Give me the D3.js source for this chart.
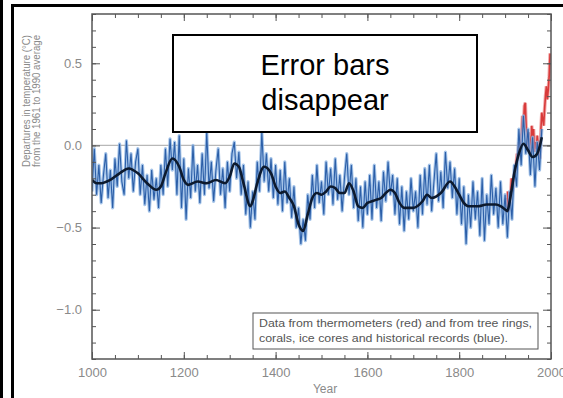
<!DOCTYPE html>
<html><head><meta charset="utf-8">
<script src="https://cdn.jsdelivr.net/npm/d3@7"></script>
<style>
html,body{margin:0;padding:0;background:#fff;}
svg{display:block;font-family:"Liberation Sans",Arial,sans-serif;}
</style></head>
<body>
<svg id="c" width="563" height="398"></svg>
<script>
// ---- data ----
const blueStart = 1000, blueStep = 5;
const blueTemps = [
 -0.28,-0.02,-0.30,-0.12,-0.35,-0.18,-0.05,-0.32,-0.15,-0.38,-0.08,-0.25,0.01,-0.22,-0.30,0.03,-0.20,-0.05,-0.28,-0.10,
 -0.02,-0.30,-0.12,-0.36,-0.18,-0.40,-0.15,-0.33,-0.20,-0.38,-0.12,-0.30,-0.02,-0.25,0.04,-0.15,0.02,-0.30,0.06,-0.38,
 -0.08,-0.45,-0.14,-0.32,0.00,-0.28,-0.12,-0.35,-0.05,-0.30,0.08,-0.26,-0.10,-0.34,-0.15,-0.02,-0.30,-0.14,-0.38,-0.10,
 -0.28,-0.05,0.02,-0.20,-0.04,-0.30,-0.12,-0.42,-0.22,-0.50,-0.28,-0.45,-0.10,-0.28,0.08,-0.22,-0.05,-0.28,-0.08,-0.32,
 -0.12,-0.36,-0.15,-0.40,-0.10,-0.35,-0.20,-0.44,-0.25,-0.50,-0.38,-0.60,-0.45,-0.58,-0.30,-0.45,-0.18,-0.38,-0.12,-0.35,
 -0.22,-0.42,-0.10,-0.30,-0.14,-0.36,-0.08,-0.33,-0.18,-0.40,-0.20,-0.05,-0.30,-0.12,-0.38,-0.20,-0.46,-0.25,-0.50,-0.22,
 -0.42,-0.18,-0.45,-0.12,-0.38,-0.22,-0.46,-0.16,-0.34,-0.10,-0.30,-0.18,-0.42,-0.20,-0.48,-0.25,-0.52,-0.28,-0.45,-0.20,
 -0.40,-0.28,-0.50,-0.18,-0.42,-0.14,-0.36,-0.12,-0.40,-0.22,-0.05,-0.34,-0.16,-0.38,-0.04,-0.26,-0.10,-0.32,-0.14,-0.42,
 -0.20,-0.48,-0.25,-0.60,-0.30,-0.50,-0.22,-0.45,-0.28,-0.55,-0.20,-0.58,-0.30,-0.48,-0.18,-0.42,-0.26,-0.50,-0.22,-0.48,
 -0.30,-0.56,-0.28,-0.45,-0.12,-0.25,0.10,-0.12,0.18,-0.05,0.10,-0.18,0.05,-0.25,0.02,-0.15,0.10
];
const redStart = 1902, redStep = 2;
const redTemps = [
 -0.32,-0.38,-0.28,-0.40,-0.36,-0.30,-0.20,-0.28,-0.22,-0.18,
 -0.15,-0.12,-0.05,-0.08,0.02,-0.02,0.05,0.08,0.18,0.12,
 0.24,0.26,0.10,0.06,-0.02,0.08,0.02,-0.06,0.12,0.05,
 0.10,-0.04,0.02,-0.02,0.06,0.00,-0.04,-0.08,0.10,0.20,
 0.16,0.12,0.22,0.30,0.36,0.28,0.34,0.42,0.56
];
const smoothYears = [1000,1010,1020,1040,1060,1080,1100,1120,1140,1150,1160,1175,1190,1200,1210,1230,1250,1270,1290,1300,1310,1320,1330,1345,1350,1360,1375,1390,1400,1410,1420,1430,1440,1450,1460,1470,1480,1490,1500,1510,1520,1530,1540,1550,1560,1570,1580,1590,1600,1610,1620,1630,1640,1650,1660,1670,1680,1700,1720,1730,1740,1760,1780,1790,1800,1810,1820,1840,1860,1880,1890,1900,1905,1910,1920,1930,1940,1950,1960,1970,1980];
const smoothTemps = [-0.21,-0.23,-0.23,-0.21,-0.17,-0.14,-0.17,-0.23,-0.27,-0.25,-0.17,-0.08,-0.13,-0.21,-0.24,-0.22,-0.23,-0.21,-0.23,-0.19,-0.11,-0.13,-0.23,-0.37,-0.34,-0.23,-0.13,-0.17,-0.25,-0.29,-0.28,-0.32,-0.37,-0.48,-0.52,-0.42,-0.32,-0.29,-0.30,-0.28,-0.25,-0.26,-0.29,-0.29,-0.23,-0.28,-0.37,-0.38,-0.35,-0.34,-0.33,-0.32,-0.29,-0.27,-0.29,-0.35,-0.38,-0.38,-0.34,-0.30,-0.32,-0.29,-0.22,-0.25,-0.30,-0.35,-0.37,-0.37,-0.36,-0.36,-0.37,-0.39,-0.40,-0.34,-0.17,-0.05,0.01,-0.03,-0.07,-0.05,0.05];
const xMajorTicks = [1000,1200,1400,1600,1800,2000];
const yMajorTicks = [-1.0,-0.5,0.0,0.5];
const titleLines = ["Error bars","disappear"];
const legendLines = ["Data from thermometers (red) and from tree rings,","corals, ice cores and historical records (blue)."];
const yLabelLines = ["Departures in temperature (\u00B0C)","from the 1961 to 1990 average"];
const xLabel = "Year";

// ---- drawing ----
const svg = d3.select("#c");
const L=92,R=551,T=14,B=359;
const x = d3.scaleLinear().domain([1000,2000]).range([L,R]);
const y = d3.scaleLinear().domain([-1.3,0.8]).range([B,T]);

// black frames
svg.append("rect").attr("x",0).attr("y",0).attr("width",3).attr("height",398).attr("fill","#000");
svg.append("rect").attr("x",11).attr("y",4).attr("width",3).attr("height",394).attr("fill","#000");
svg.append("rect").attr("x",11).attr("y",4).attr("width",552).attr("height",3).attr("fill","#000");

svg.append("clipPath").attr("id","clip").append("rect").attr("x",L).attr("y",T).attr("width",R-L).attr("height",B-T);
const g = svg.append("g").attr("clip-path","url(#clip)");

// zero line
g.append("line").attr("x1",L).attr("x2",R).attr("y1",y(0)).attr("y2",y(0)).attr("stroke","#b8b8b8").attr("stroke-width",1.2);

const blue = blueTemps.map((v,i)=>({yr:blueStart+i*blueStep,v}));
const red = redTemps.map((v,i)=>({yr:redStart+i*redStep,v}));
const smooth = smoothYears.map((yr,i)=>({yr,v:smoothTemps[i]}));
const line = d3.line().x(d=>x(d.yr)).y(d=>y(d.v));

g.append("path").datum(red).attr("d",line).attr("fill","none").attr("stroke","#ec8f8f").attr("stroke-width",3.5).attr("opacity",0.75);
g.append("path").datum(red).attr("d",line).attr("fill","none").attr("stroke","#d83a3a").attr("stroke-width",1.6);

g.append("path").datum(blue).attr("d",line).attr("fill","none").attr("stroke","#8db4e2").attr("stroke-width",3.2).attr("opacity",0.8).attr("stroke-linejoin","round");
g.append("path").datum(blue).attr("d",line).attr("fill","none").attr("stroke","#2c5fa8").attr("stroke-width",1.1);

g.append("path").datum(smooth).attr("d",line.curve(d3.curveMonotoneX)).attr("fill","none").attr("stroke","#0d1a2e").attr("stroke-width",2.6);

// frame + ticks
const axCol="#555";
function styleAxis(sel){sel.select(".domain").remove();sel.selectAll("line").attr("stroke",axCol);sel.selectAll("text").attr("fill","#8a8a8a").style("font-size","13px");}
const xMinor = d3.range(1000,2001,50), yMinor = d3.range(-13,9).map(k=>k/10);
svg.append("g").attr("transform",`translate(0,${B})`).call(d3.axisBottom(x).tickValues(xMinor).tickSize(-4).tickFormat("")).call(styleAxis);
svg.append("g").attr("transform",`translate(0,${B})`).call(d3.axisBottom(x).tickValues(xMajorTicks).tickSize(-7).tickPadding(9).tickFormat(d3.format("d"))).call(styleAxis);
svg.append("g").attr("transform",`translate(0,${T})`).call(d3.axisTop(x).tickValues(xMinor).tickSize(-4).tickFormat("")).call(styleAxis);
svg.append("g").attr("transform",`translate(0,${T})`).call(d3.axisTop(x).tickValues(xMajorTicks).tickSize(-7).tickFormat("")).call(styleAxis);
svg.append("g").attr("transform",`translate(${L},0)`).call(d3.axisLeft(y).tickValues(yMinor).tickSize(-4).tickFormat("")).call(styleAxis);
svg.append("g").attr("transform",`translate(${L},0)`).call(d3.axisLeft(y).tickValues(yMajorTicks).tickSize(-8).tickPadding(10).tickFormat(d3.format(".1f"))).call(styleAxis);
svg.append("g").attr("transform",`translate(${R},0)`).call(d3.axisRight(y).tickValues(yMinor).tickSize(-4).tickFormat("")).call(styleAxis);
svg.append("g").attr("transform",`translate(${R},0)`).call(d3.axisRight(y).tickValues(yMajorTicks).tickSize(-8).tickFormat("")).call(styleAxis);
svg.append("rect").attr("x",L).attr("y",T).attr("width",R-L).attr("height",B-T).attr("fill","none").attr("stroke",axCol).attr("stroke-width",1.5);

// axis titles
svg.append("text").attr("x",325).attr("y",393).attr("text-anchor","middle").attr("fill","#8a8a8a").style("font-size","12px").text(xLabel);
yLabelLines.forEach((t,i)=>{
  svg.append("text").attr("transform",`translate(${30+i*10},101) rotate(-90)`).attr("text-anchor","middle")
    .attr("fill","#8a8a8a").style("font-size","10px").attr("textLength",132).attr("lengthAdjust","spacingAndGlyphs").text(t);
});

// legend box
svg.append("rect").attr("x",253).attr("y",313).attr("width",285).attr("height",36).attr("fill","#fff").attr("stroke","#555").attr("stroke-width",1);
legendLines.forEach((t,i)=>{
  svg.append("text").attr("x",259).attr("y",327+i*15).attr("fill","#555").style("font-size","10px")
    .attr("textLength", i===0?273:249).attr("lengthAdjust","spacingAndGlyphs").text(t);
});

// title box
svg.append("rect").attr("x",173).attr("y",35).attr("width",304).attr("height",97).attr("fill","#fff").attr("stroke","#000").attr("stroke-width",2);
titleLines.forEach((t,i)=>{
  svg.append("text").attr("x",325).attr("y",75+i*35).attr("text-anchor","middle").attr("fill","#000").style("font-size","29px").text(t);
});
</script>
</body></html>
